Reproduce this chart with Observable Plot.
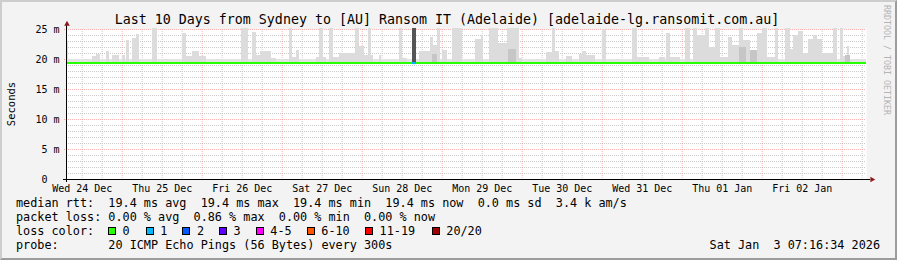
<!DOCTYPE html>
<html><head><meta charset="utf-8">
<script src="https://cdn.jsdelivr.net/npm/d3@7"></script>
<script src="https://cdn.jsdelivr.net/npm/@observablehq/plot@0.6"></script>
<style>
html,body{margin:0;padding:0;background:#f3f3f3;}
#wrap{position:relative;width:897px;height:260px;background:#f3f3f3;overflow:hidden;font-family:"DejaVu Sans Mono",monospace;color:#000;}
#wrap svg{position:absolute;left:0;top:0;overflow:visible;}
.t{position:absolute;white-space:pre;margin:0;}
#title{left:0;width:894px;text-align:center;top:12.7px;font-size:13.3px;line-height:13.3px;}
.leg{left:16px;font-size:11.8px;line-height:11.8px;}
#date{right:17px;top:240.3px;font-size:11.8px;line-height:11.8px;}
#ylab{left:11px;top:104px;font-size:10.5px;line-height:10.5px;transform:translate(-50%,-50%) rotate(-90deg);}
#rrd{left:887px;top:60px;font-size:8.3px;line-height:8.3px;color:#b4b4b4;transform:translate(-50%,-50%) rotate(90deg);}
.sw{position:absolute;top:226.8px;width:6px;height:6px;border:1px solid #000;}
.swt{position:absolute;top:226.3px;font-size:11.8px;line-height:11.8px;white-space:pre;}
#frame{position:absolute;left:0;top:0;width:897px;height:260px;box-sizing:border-box;border-top:2px solid #cdcdcd;border-left:2px solid #cdcdcd;border-bottom:2px solid #9c9c9c;border-right:2px solid #9c9c9c;pointer-events:none;}
</style></head>
<body>
<div id="wrap"></div>
<script>
// ---- data ----
const titleText = "Last 10 Days from Sydney to [AU] Ransom IT (Adelaide) [adelaide-lg.ransomit.com.au]";
const windowStartUTC = [2025, 11, 24, 7, 16, 34]; // Wed 24 Dec 07:16:34
const windowHours = 240;
const dayLabels = ["Wed 24 Dec","Thu 25 Dec","Fri 26 Dec","Sat 27 Dec","Sun 28 Dec","Mon 29 Dec","Tue 30 Dec","Wed 31 Dec","Thu 01 Jan","Fri 02 Jan"];
const yTickValues = [0, 5, 10, 15, 20, 25];
const yTickLabels = ["0\u00a0\u00a0", "5 m", "10 m", "15 m", "20 m", "25 m"];
const medianRtt = 19.4;          // ms
const smokeBandTop = 20.0;       // ms, thin smoke band just above median
// smoke columns: start hour, end hour (from window start), upper smoke value (ms)
const smokeStart = [0.0,7.8,9.0,12.0,13.8,16.8,18.0,19.8,21.0,25.8,34.8,36.0,37.8,39.9,52.5,55.8,57.0,58.2,61.5,66.9,67.8,69.0,75.0,75.9,77.1,78.9,80.1,81.9,86.7,87.9,89.4,90.6,91.5,93.9,99.9,100.8,105.9,109.2,110.1,111.3,112.8,115.8,122.7,124.5,126.9,129.6,132.3,135.9,144.0,145.8,146.7,150.0,153.9,154.8,156.0,160.8,169.8,171.3,177.9,180.0,181.2,185.7,188.1,189.3,191.7,192.9,194.7,196.2,198.6,199.8,201.9,203.1,205.2,207.3,208.8,210.3,212.7,215.7,217.2,218.1,219.6,221.1,222.6,224.1,225.3,226.8,230.1,232.2,233.1,234.3];
const smokeEnd   = [0.6,9.0,10.2,12.9,15.9,17.7,18.9,21.0,21.9,27.3,36.0,37.8,39.9,42.0,54.6,57.0,58.2,61.5,63.0,67.8,69.0,69.9,75.9,77.1,78.0,80.1,81.9,86.7,87.9,89.4,90.6,91.5,92.1,94.5,100.8,102.3,109.2,110.1,111.3,112.2,114.3,118.8,124.5,125.1,129.6,132.3,135.9,136.8,145.8,146.7,147.9,151.8,154.8,156.0,158.7,162.0,171.3,174.9,179.7,181.2,184.2,187.2,189.3,191.7,192.9,194.7,196.2,198.6,199.8,201.9,203.1,205.2,207.3,208.8,210.3,212.7,213.6,217.2,218.1,219.6,221.1,222.6,224.1,225.3,226.8,230.1,231.3,233.1,234.3,234.9];
const smokeTop   = [23.0,20.5,20.9,21.3,20.7,20.6,23.2,23.5,24.2,25.2,24.4,20.5,21.3,20.5,25.2,24.5,20.7,21.4,20.2,25.2,20.3,21.5,20.3,25.2,20.3,25.2,20.3,21.0,25.2,22.2,20.6,25.2,20.6,20.6,25.2,20.2,21.3,23.7,22.3,25.2,21.5,25.2,23.3,24.0,25.2,22.6,25.2,20.2,21.2,25.2,21.3,20.5,20.8,21.3,20.6,25.0,25.2,20.3,20.4,24.3,20.4,25.2,25.2,24.0,25.2,22.0,25.2,20.3,23.7,22.3,25.2,23.2,21.2,24.3,25.2,20.4,25.2,25.2,21.7,24.0,24.6,21.0,23.4,24.0,23.3,21.0,25.2,25.2,20.5,22.2];
// denser (darker) smoke patches
const denseStart = [109.8,132.6,201.9,205.2,233.7];
const denseEnd   = [111.3,135.0,204.0,207.3,235.2];
const denseTop   = [20.9,21.7,22.0,21.5,20.6];
// hour with packet loss (full dark smoke column)
const lossBarStart = [103.8];
const lossBarEnd   = [105.0];
const lossBarTop   = [25.2];
// median line segments coloured by lost pings
const medSegStart = [0, 103.8, 105.0];
const medSegEnd   = [103.8, 105.0, 240];
const medSegLoss  = ["0", "1", "0"];
const lossKeys   = ["0","1","2","3","4-5","6-10","11-19","20/20"];
const lossColors = ["#26ff00","#00b8ff","#0059ff","#5e00ff","#ff00ff","#ff5500","#ff0000","#a10000"];
const legendLines = [
  "median rtt:  19.4 ms avg  19.4 ms max  19.4 ms min  19.4 ms now  0.0 ms sd  3.4 k am/s",
  "packet loss: 0.00 % avg  0.86 % max  0.00 % min  0.00 % now",
  "loss color:",
  "probe:       20 ICMP Echo Pings (56 Bytes) every 300s"
];
const dateText = "Sat Jan  3 07:16:34 2026";
const yAxisLabel = "Seconds";
const sideText = "RRDTOOL / TOBI OETIKER";

// ---- build ----
const t0 = Date.UTC(...windowStartUTC);
const T = h => new Date(t0 + h * 3600e3);
const smoke = smokeStart.map((s, i) => ({s: T(s), e: T(smokeEnd[i]), top: smokeTop[i]}));
const dense = denseStart.map((s, i) => ({s: T(s), e: T(denseEnd[i]), top: denseTop[i]}));
const lossBars = lossBarStart.map((s, i) => ({s: T(s), e: T(lossBarEnd[i]), top: lossBarTop[i]}));
const colorOf = Object.fromEntries(lossKeys.map((k, i) => [k, lossColors[i]]));
const medSegs = medSegStart.map((s, i) => ({s: T(s), e: T(medSegEnd[i]), c: colorOf[medSegLoss[i]]}));
const xDomain = [T(0), T(windowHours)];
const midnights = d3.utcDay.range(xDomain[0], xDomain[1]);
const sixHours = d3.utcHour.every(6).range(xDomain[0], xDomain[1]).filter(d => d.getUTCHours() !== 0);
const noons = midnights.map(d => d3.utcHour.offset(d, -12));
const dayLabelOf = new Map(noons.map((d, i) => [+d, dayLabels[i]]));
const yLabelOf = new Map(yTickValues.map((v, i) => [v, yTickLabels[i]]));
const minorY = d3.range(1, 25).filter(v => v % 5 !== 0);

const chart = Plot.plot({
  width: 897, height: 260,
  marginLeft: 66, marginRight: 31, marginTop: 29, marginBottom: 81,
  x: {type: "utc", domain: xDomain},
  y: {domain: [0, 25]},
  style: {fontFamily: "DejaVu Sans Mono", fontSize: "10px", background: "transparent", color: "#000"},
  marks: [
    Plot.frame({fill: "white", stroke: null}),
    Plot.ruleY(minorY, {stroke: "#bdbdbd", strokeOpacity: 0.8, strokeDasharray: "1,1"}),
    Plot.ruleX(sixHours, {stroke: "#bdbdbd", strokeOpacity: 0.8, strokeDasharray: "1,1"}),
    Plot.ruleY(yTickValues.filter(v => v > 0), {stroke: "#ff8080", strokeOpacity: 0.6, strokeDasharray: "1,1", insetLeft: -2}),
    Plot.ruleX(midnights, {stroke: "#ff8080", strokeOpacity: 0.6, strokeDasharray: "1,1", insetBottom: -2}),
    Plot.rect([0], {x1: () => xDomain[0], x2: () => xDomain[1], y1: () => medianRtt, y2: () => smokeBandTop, fill: "#e3e3e3"}),
    Plot.rect(smoke, {x1: "s", x2: "e", y1: () => medianRtt, y2: "top", fill: "#dcdcdc", shapeRendering: "crispEdges"}),
    Plot.rect(dense, {x1: "s", x2: "e", y1: () => medianRtt, y2: "top", fill: "#c6c6c6", shapeRendering: "crispEdges"}),
    Plot.rect(lossBars, {x1: "s", x2: "e", y1: () => medianRtt, y2: "top", fill: "#555555", shapeRendering: "crispEdges"}),
    Plot.ruleY(medSegs, {y: () => medianRtt, x1: "s", x2: "e", stroke: "c", strokeWidth: 2}),
    Plot.ruleX([xDomain[0]], {stroke: "#000", insetTop: -5, insetBottom: -3}),
    Plot.ruleY([0], {stroke: "#000", insetLeft: -3, insetRight: -4}),
    Plot.dot([xDomain[0]], {x: d => d, y: () => 25, symbol: "triangle", r: 2.1, fill: "#8b1a1a", stroke: "none", dy: -5.5, dx: 0.5}),
    Plot.dot([xDomain[1]], {x: d => d, y: () => 0, symbol: "triangle", r: 2.1, fill: "#8b1a1a", stroke: "none", rotate: 90, dx: 5.5}),
    Plot.axisY({ticks: yTickValues, tickFormat: v => yLabelOf.get(v), tickSize: 0, tickPadding: 7, label: null, fontSize: 10}),
    Plot.axisX({ticks: noons, tickFormat: d => dayLabelOf.get(+d), tickSize: 0, tickPadding: 5, label: null, fontSize: 10})
  ]
});

const wrap = document.getElementById("wrap");
wrap.appendChild(chart);
function addText(id, cls, txt, style) {
  const d = document.createElement("div");
  if (id) d.id = id;
  d.className = cls; d.textContent = txt;
  if (style) Object.assign(d.style, style);
  wrap.appendChild(d);
}
addText("title", "t", titleText);
legendLines.forEach((l, i) => addText(null, "t leg", l, {top: (198.3 + 14 * i) + "px"}));
addText("date", "t", dateText);
addText("ylab", "t", yAxisLabel);
addText("rrd", "t", sideText);
const swLeft = [108, 145.7, 182.3, 219, 255.7, 306.7, 365, 431.7];
lossKeys.forEach((k, i) => {
  const b = document.createElement("div");
  b.className = "sw"; b.style.left = swLeft[i] + "px"; b.style.background = lossColors[i];
  wrap.appendChild(b);
  const s = document.createElement("div");
  s.className = "swt"; s.style.left = (swLeft[i] + 14.6) + "px"; s.textContent = k;
  wrap.appendChild(s);
});
const fr = document.createElement("div"); fr.id = "frame"; wrap.appendChild(fr);
</script>
</body></html>
